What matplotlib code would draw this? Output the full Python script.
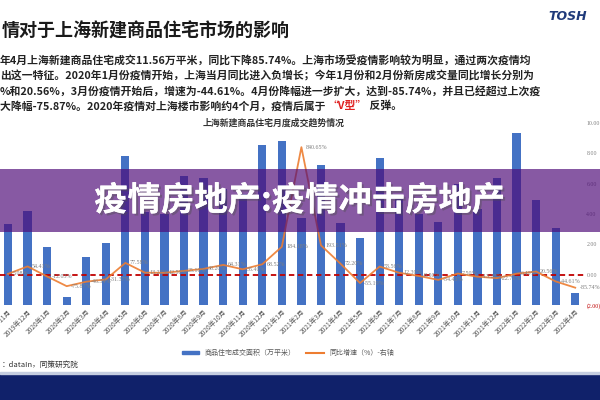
import numpy as np
import matplotlib.pyplot as plt
from matplotlib import patheffects as pe
from matplotlib.patches import Rectangle
from matplotlib.lines import Line2D

plt.rcParams['font.family'] = ['Noto Sans CJK SC', 'DejaVu Sans']

# monthly data
months = ['2019年11月', '2019年12月',
          '2020年1月', '2020年2月', '2020年3月', '2020年4月', '2020年5月', '2020年6月',
          '2020年7月', '2020年8月', '2020年9月', '2020年10月', '2020年11月', '2020年12月',
          '2021年1月', '2021年2月', '2021年3月', '2021年4月', '2021年5月', '2021年6月',
          '2021年7月', '2021年8月', '2021年9月', '2021年10月', '2021年11月', '2021年12月',
          '2022年1月', '2022年2月', '2022年3月', '2022年4月']
area = [80, 93, 57, 8, 47, 61, 147, 92, 90, 128, 126, 115, 110, 158,
        162, 86, 138, 81, 66, 145, 105, 90, 82, 120, 95, 126,
        170, 104, 76, 11.56]  # 万平米
yoy = [5.08, 54.41, -12.03, -75.87, -46.34, -31.37, 77.58, 13.22, 12.50, 25.10,
       38.20, 64.31, 35.40, 68.52, 184.18, 840.65, 193.51, 72.20, -55.19, 53.56,
       12.30, -8.50, -34.43, 7.50, -13.20, -22.71, 6.40, 20.56, -44.61, -85.74]  # %

right_ticks = [-2, 0, 2, 4, 6, 8, 10]

para = ['年4月上海新建商品住宅成交11.56万平米，同比下降85.74%。上海市场受疫情影响较为明显，通过两次疫情均',
        '出这一特征。2020年1月份疫情开始，上海当月同比进入负增长；今年1月份和2月份新房成交量同比增长分别为',
        '%和20.56%，3月份疫情开始后，增速为-44.61%。4月份降幅进一步扩大，达到-85.74%，并且已经超过上次疫',
        '大降幅-75.87%。2020年疫情对上海楼市影响约4个月，疫情后属于 ']

blue = '#4472C4'
orange = '#ED7D31'

fig = plt.figure(figsize=(6, 4), dpi=100)
W, H = 600, 400

# chart
x = np.arange(len(months))
ax = fig.add_axes([0, 1 - 305 / H, 585 / W, 182 / H])
ax.bar(x, area, width=0.42, color=blue, zorder=2)
ax.set_xlim(-0.41, len(months) - 0.5)
ax.set_ylim(0, 180)
ax.set_yticks([])
ax.set_xticks(x)
ax.set_xticklabels(months, rotation=45, ha='right', rotation_mode='anchor',
                   fontsize=4.8, color='#595959')
ax.tick_params(axis='x', length=0, pad=2)
for s in ax.spines.values():
    s.set_visible(False)

ax2 = ax.twinx()
ratio = np.array(yoy) / 100
ax2.axhline(0, color='#C00000', ls=(0, (3, 2)), lw=1.3, zorder=1)
ax2.plot(x, ratio, color=orange, lw=1.3, alpha=0.9, zorder=3)
for i, v in enumerate(yoy):
    ax2.annotate('{:.2f}%'.format(v), (i, v / 100), xytext=(3, 0),
                 textcoords='offset points', fontsize=4.3, color='#7f7f7f',
                 family='Liberation Serif', va='center')
ax2.set_ylim(-2, 10)
ax2.set_yticks(right_ticks)
ax2.set_yticklabels(['{:.2f}'.format(t) if t >= 0 else '({:.2f})'.format(-t) for t in right_ticks],
                    fontsize=4.2, family='Liberation Serif')
for t, lab in zip(right_ticks, ax2.get_yticklabels()):
    lab.set_color('#C00000' if t < 0 else '#7f7f7f')
ax2.tick_params(axis='y', length=0, pad=1)
for s in ax2.spines.values():
    s.set_visible(False)

fig.text(274 / W, 1 - 123 / H, '上海新建商品住宅月度成交趋势情况', ha='center', va='center',
         fontsize=6.4, weight='bold', color='#333333')

handles = [Rectangle((0, 0), 1, 1, color=blue), Line2D([], [], color=orange, lw=1.5)]
fig.legend(handles, ['商品住宅成交面积（万平米）', '同比增速（%）-右轴'], loc='center',
           bbox_to_anchor=(288 / W, 1 - 353 / H), ncol=2, frameon=False, fontsize=5,
           handlelength=2.5, handleheight=0.4, columnspacing=1.5, labelcolor='#595959')

# slide text
fig.text(0.002, 1 - 31 / H, '情对于上海新建商品住宅市场的影响', fontsize=13, weight='bold',
         color='#1a1a1a', va='center', ha='left')
fig.text(548 / W, 1 - 17 / H, 'TOSH', fontsize=9, weight='bold', style='italic',
         color='#1f3a7a', va='center', family='DejaVu Sans')
ys = [61, 76, 91, 106]
for line, yy in zip(para, ys):
    t = fig.text(0, 1 - yy / H, line, fontsize=7.8, weight='bold', color='#222222',
                 va='center', ha='left')
a2 = fig.add_artist(plt.Annotation('“V型”', xy=(1, 0.5), xycoords=t, va='center', ha='left',
                                   fontsize=7.8, weight='bold', color='#E02020'))
fig.add_artist(plt.Annotation(' 反弹。', xy=(1, 0.5), xycoords=a2, va='center', ha='left',
                              fontsize=7.8, weight='bold', color='#222222'))

fig.text(0.002, 1 - 365 / H, '：dataIn，同策研究院', fontsize=5.5, color='#333333',
         va='center')

# bottom band
fig.patches.append(Rectangle((0, 0), 1, 26 / H, transform=fig.transFigure,
                             color='#10216a', zorder=4))
fig.patches.append(Rectangle((0, 26 / H), 1, 2 / H, transform=fig.transFigure,
                             color='#c5cde0', zorder=4))
fig.text(0.002, 1 - 383 / H, '置业体验更美好', fontsize=6.5, color='#aab4d4', va='center')
fig.text(0.002, 1 - 393 / H, '有温度 有智慧 有价值', fontsize=3.5, color='#8890b0', va='center')

# purple banner over the chart
fig.patches.append(Rectangle((0, 1 - 232 / H), 1, 63 / H, transform=fig.transFigure,
                             color='#4e0a78', alpha=0.68, zorder=5, lw=0))
fig.text(0.5, 1 - 201 / H, '疫情房地产:疫情冲击房地产', ha='center', va='center',
         fontsize=24, weight='bold', color='white', zorder=6,
         path_effects=[pe.withSimplePatchShadow(offset=(1.5, -1.5), alpha=0.4), pe.Normal()])

fig.savefig('out.png', dpi=100)
